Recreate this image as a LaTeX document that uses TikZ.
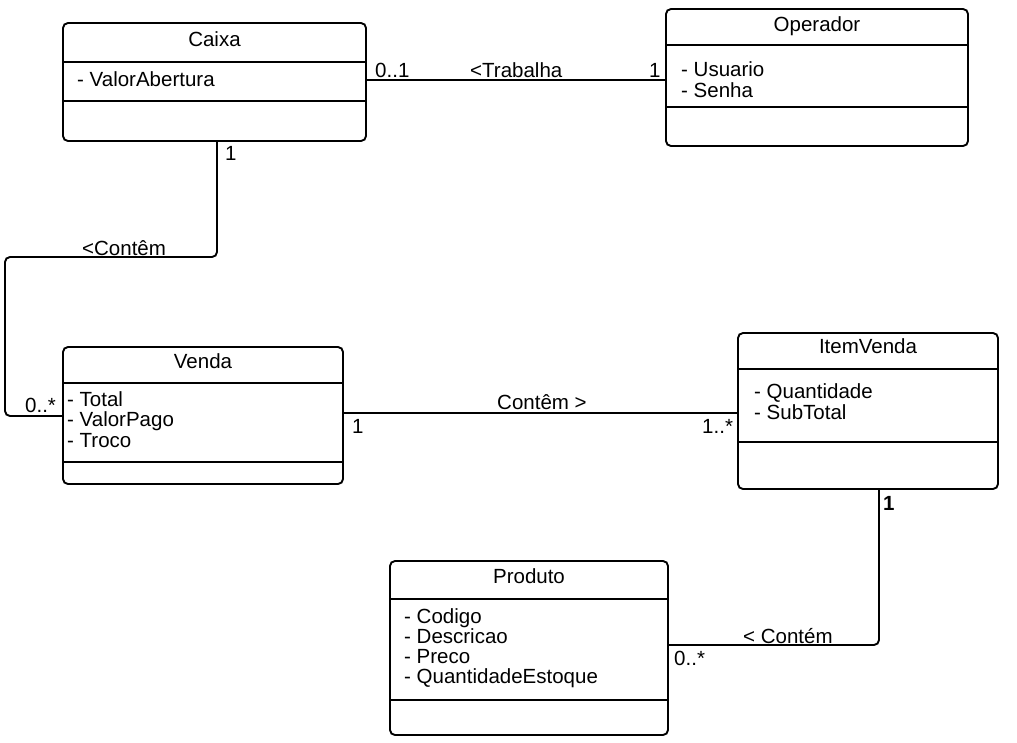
\documentclass[tikz,border=0pt]{standalone}
\usepackage{fontspec}
\setmainfont{Liberation Sans}
\begin{document}
\begin{tikzpicture}[x=1pt,y=-1pt,
  classbox/.style={draw, line width=1.9pt, rounded corners=5pt, inner sep=0pt, outer sep=0pt},
  divider/.style={line width=1.9pt},
  assoc/.style={line width=1.9pt, rounded corners=5pt},
  txt/.style={inner sep=0pt, font=\fontsize{20.5}{21}\selectfont},
  title/.style={txt, anchor=base},
  attrs/.style={txt, anchor=base west, align=left},
  lbl/.style={txt, anchor=base west}]
\useasboundingbox (0,0) rectangle (1017,742);

% ---- Caixa ----
\node[classbox, minimum width=303pt, minimum height=118pt] (caixa) at (214.5,82) {};
\draw[divider] (caixa.west |- 0,62) -- (caixa.east |- 0,62);
\draw[divider] (caixa.west |- 0,101) -- (caixa.east |- 0,101);
\node[title] (caixaT) at (caixa.center |- 0,46) {Caixa};
\node[attrs] (caixaA) at (77,86) {- ValorAbertura};

% ---- Operador ----
% (attribute blocks are placed by the baseline of their last line)
\node[classbox, minimum width=302pt, minimum height=137pt] (oper) at (817,77.5) {};
\draw[divider] (oper.west |- 0,45) -- (oper.east |- 0,45);
\draw[divider] (oper.west |- 0,107) -- (oper.east |- 0,107);
\node[title] (operT) at (oper.center |- 0,31) {Operador};
\node[attrs] (operA) at (681,97) {- Usuario\\- Senha};

% ---- Venda ----
\node[classbox, minimum width=280pt, minimum height=137pt] (venda) at (203,415.5) {};
\draw[divider] (venda.west |- 0,383) -- (venda.east |- 0,383);
\draw[divider] (venda.west |- 0,462) -- (venda.east |- 0,462);
\node[title] (vendaT) at (venda.center |- 0,368) {Venda};
\node[attrs] (vendaA) at (67,447) {- Total\\[-0.5pt]- ValorPago\\[-0.5pt]- Troco};

% ---- ItemVenda ----
\node[classbox, minimum width=260pt, minimum height=156pt] (item) at (868,411) {};
\draw[divider] (item.west |- 0,369) -- (item.east |- 0,369);
\draw[divider] (item.west |- 0,442) -- (item.east |- 0,442);
\node[title] (itemT) at (item.center |- 0,353) {ItemVenda};
\node[attrs] (itemA) at (754,419) {- Quantidade\\- SubTotal};

% ---- Produto ----
\node[classbox, minimum width=278pt, minimum height=174pt] (prod) at (529,648) {};
\draw[divider] (prod.west |- 0,599) -- (prod.east |- 0,599);
\draw[divider] (prod.west |- 0,700) -- (prod.east |- 0,700);
\node[title] (prodT) at (prod.center |- 0,583) {Produto};
\node[attrs] (prodA) at (404,683)
  {- Codigo\\[-1pt]- Descricao\\[-1pt]- Preco\\[-1pt]- QuantidadeEstoque};

% ---- associations ----
\draw[assoc] (caixa.east |- 0,80) -- (oper.west |- 0,80);
\node[lbl] (t1) at (375,77) {0..1};
\node[lbl] (t2) at (470,77) {<Trabalha};
\node[lbl] (t3) at (649,77) {1};

\draw[assoc] (caixa.south -| 217,0) -- (217,257) -- (5,257) -- (5,416) -- (venda.west |- 0,416);
\node[lbl] (c1) at (225,160) {1};
\node[lbl] (c2) at (82,255) {<Contêm};
\node[lbl] (c3) at (25,412) {0..*};

\draw[assoc] (venda.east |- 0,413) -- (item.west |- 0,413);
\node[lbl] (v1) at (352,433) {1};
\node[lbl] (v2) at (497,409) {Contêm >};
\node[lbl] (v3) at (702,433) {1..*};

\draw[assoc] (item.south -| 879,0) -- (879,645) -- (prod.east |- 0,645);
\node[lbl, font=\fontsize{20.5}{21}\selectfont\bfseries] (p1) at (883,510) {1};
\node[lbl] (p2) at (743,643) {< Contém};
\node[lbl] (p3) at (674,665) {0..*};
\end{tikzpicture}
\end{document}
